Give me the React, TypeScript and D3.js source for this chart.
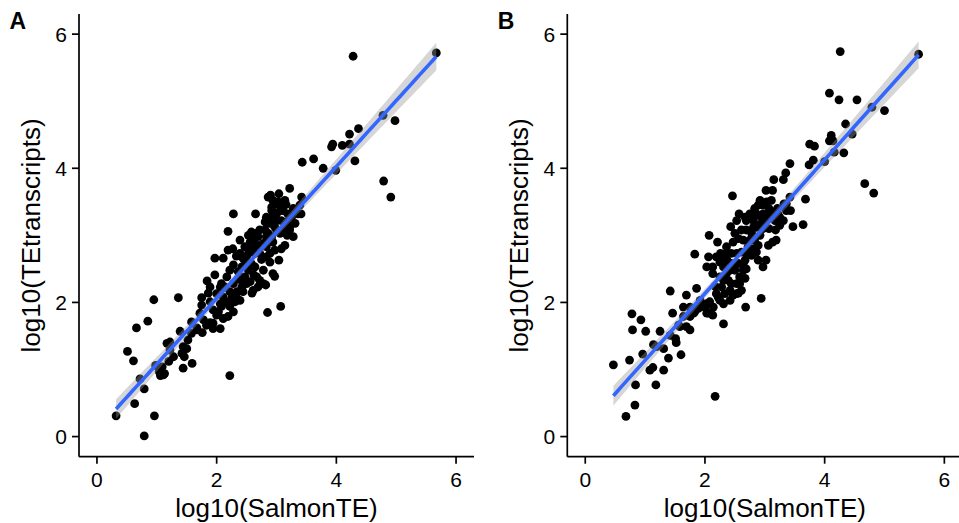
import React from 'react';
import * as d3 from 'd3';

// log10(SalmonTE), log10(TEtranscripts) pairs
const pointsA: [number, number][] = [
  [0.32, 0.31], [0.79, 0.01], [0.96, 0.31], [0.63, 0.49], [0.79, 0.71], [0.72, 0.86],
  [0.51, 1.27], [0.61, 1.13], [0.66, 1.62], [0.85, 1.72], [0.95, 2.04], [1.36, 2.07],
  [0.98, 1.06], [1.04, 0.97], [1.11, 0.92], [1.06, 0.91], [1.2, 1.12], [1.22, 1.41],
  [1.28, 1.19], [1.39, 1.57], [1.44, 1.34], [1.46, 1.19], [1.44, 1.02], [1.59, 1.09],
  [1.52, 1.44], [1.58, 1.71], [1.67, 1.59], [1.76, 1.55], [1.75, 1.96], [1.75, 2.07],
  [1.86, 2.14], [1.84, 2.32], [1.97, 2.41], [1.97, 2.66], [1.83, 1.66], [1.94, 1.69],
  [2.06, 1.61], [1.94, 1.89], [2.03, 1.86], [2.06, 2.23], [2.11, 2.08], [2.19, 1.79],
  [2.28, 1.86], [2.22, 1.94], [2.31, 2.01], [2.22, 0.91], [2.19, 3.06], [2.28, 3.32],
  [2.27, 2.8], [2.19, 2.78], [2.11, 2.66], [2.28, 2.56], [2.39, 2.93], [2.33, 2.69],
  [2.44, 2.66], [2.39, 2.34], [2.44, 2.16], [2.59, 2.14], [2.56, 2.31], [2.62, 2.41],
  [2.53, 2.48], [2.5, 2.68], [2.53, 2.8], [2.61, 2.93], [2.64, 3.03], [2.56, 2.9],
  [2.65, 3.32], [2.69, 2.98], [2.75, 2.64], [2.78, 2.48], [2.69, 2.23], [2.78, 2.28],
  [2.82, 2.26], [2.72, 2.33], [2.85, 1.85], [2.81, 3.2], [2.86, 3.57], [2.9, 3.6],
  [2.92, 3.37], [2.94, 3.52], [3.04, 3.62], [3.0, 3.47], [3.14, 3.52], [3.06, 3.37],
  [2.97, 3.13], [2.86, 3.03], [2.94, 2.9], [2.83, 2.83], [2.89, 2.6], [3.04, 2.63],
  [3.08, 2.8], [2.94, 2.43], [2.97, 2.39], [3.07, 1.94], [3.14, 2.85], [3.18, 3.0],
  [3.1, 3.08], [3.22, 3.13], [3.28, 2.98], [3.31, 3.18], [3.22, 3.7], [3.19, 3.32],
  [3.28, 3.4], [3.39, 3.45], [3.42, 3.57], [3.41, 3.32], [3.43, 4.09], [3.62, 4.14],
  [3.78, 4.0], [3.99, 3.97], [3.92, 4.32], [3.94, 4.36], [4.1, 4.34], [4.22, 4.36],
  [4.22, 4.51], [4.37, 4.59], [4.31, 4.11], [4.28, 5.67], [4.78, 4.79], [4.98, 4.71],
  [4.79, 3.81], [4.91, 3.57], [5.67, 5.72], [1.78, 1.74], [1.72, 1.84], [1.89, 2.01],
  [2.0, 2.13], [2.14, 2.23], [2.22, 2.16], [2.33, 2.13], [2.28, 2.28], [2.17, 2.38],
  [2.36, 2.46], [2.47, 2.38], [2.42, 2.53], [2.58, 2.58], [2.64, 2.73], [2.72, 2.73],
  [2.78, 2.88], [2.69, 2.85], [2.61, 2.8], [2.53, 3.0], [2.58, 3.05], [2.72, 3.08],
  [2.81, 3.08], [2.89, 3.18], [3.0, 3.22], [2.93, 3.27], [3.0, 3.32], [3.08, 3.22],
  [3.14, 3.13], [3.06, 3.03], [2.92, 2.98], [2.47, 2.83], [2.39, 2.73], [2.22, 2.48],
  [2.08, 2.28], [1.89, 2.23], [2.06, 1.98], [2.17, 2.01], [2.26, 2.08], [2.5, 2.28],
  [2.67, 2.38], [2.64, 2.53], [2.83, 2.68], [2.89, 2.73], [2.97, 2.78], [3.11, 3.37],
  [3.16, 3.46], [3.04, 3.47], [3.25, 3.27], [3.36, 3.32], [2.61, 2.18], [1.58, 1.54],
  [1.67, 1.62], [1.17, 1.39], [1.22, 1.29], [1.42, 1.24], [1.5, 1.31], [1.09, 1.04],
  [1.13, 0.94], [1.94, 1.61], [1.89, 1.7], [2.53, 2.73], [2.61, 2.98], [2.83, 2.98],
  [3.0, 3.08], [3.22, 3.08], [2.34, 2.16], [2.42, 2.23], [2.28, 2.01], [2.08, 1.94],
  [2.0, 1.81], [2.11, 1.76], [2.39, 2.03], [2.47, 2.63], [2.83, 3.27], [2.92, 3.42],
  [3.03, 3.5], [3.17, 3.2],
];

const pointsB: [number, number][] = [
  [0.47, 1.07], [0.68, 0.3], [0.83, 0.47], [0.84, 0.77], [0.74, 1.14], [0.78, 1.83],
  [0.79, 1.59], [0.93, 1.74], [1.01, 1.57], [0.96, 1.23], [1.08, 0.99], [1.13, 1.03],
  [1.18, 0.77], [1.31, 0.99], [1.14, 1.37], [1.25, 1.57], [1.31, 1.31], [1.39, 1.17],
  [1.51, 1.46], [1.52, 1.4], [1.6, 1.22], [1.46, 1.84], [1.42, 2.17], [1.69, 2.11],
  [1.64, 1.93], [1.75, 1.59], [1.69, 1.64], [1.58, 1.64], [1.75, 1.79], [1.83, 1.86],
  [1.86, 2.21], [1.83, 2.72], [2.07, 3.0], [2.21, 2.9], [2.06, 2.68], [2.13, 2.53],
  [2.13, 2.43], [2.17, 2.24], [2.03, 1.98], [2.13, 1.81], [2.31, 1.68], [2.17, 0.6],
  [2.25, 2.03], [1.97, 1.96], [1.89, 1.91], [2.06, 1.84], [2.46, 3.59], [2.43, 3.13],
  [2.53, 3.22], [2.57, 3.32], [2.47, 2.9], [2.36, 2.73], [2.31, 2.68], [2.25, 2.6],
  [2.42, 2.48], [2.39, 2.33], [2.44, 2.28], [2.47, 2.11], [2.56, 2.14], [2.68, 1.93],
  [2.67, 2.36], [2.64, 2.48], [2.69, 2.5], [2.56, 2.58], [2.61, 2.75], [2.67, 2.63],
  [2.61, 3.08], [2.69, 3.08], [2.78, 3.03], [2.81, 3.22], [2.86, 3.32], [2.89, 3.45],
  [2.97, 3.45], [3.03, 3.5], [3.11, 3.52], [3.02, 3.67], [3.13, 3.67], [3.15, 3.83],
  [3.31, 3.83], [3.35, 3.93], [3.42, 4.07], [2.86, 3.12], [2.94, 3.27], [2.97, 3.1],
  [3.07, 3.1], [3.18, 3.08], [3.13, 2.9], [3.06, 2.85], [2.86, 2.75], [2.89, 2.63],
  [3.02, 2.63], [2.97, 2.53], [2.94, 2.06], [3.22, 3.32], [3.31, 3.22], [3.36, 3.37],
  [3.43, 3.37], [3.42, 3.57], [3.32, 3.47], [3.47, 3.13], [3.64, 3.16], [3.68, 3.54],
  [3.74, 4.05], [3.81, 4.12], [3.75, 4.36], [3.83, 4.33], [4.0, 4.1], [4.08, 5.12],
  [4.24, 5.02], [4.54, 5.02], [4.11, 4.49], [4.14, 4.41], [4.16, 4.24], [4.32, 4.23],
  [4.35, 4.66], [4.46, 4.51], [4.26, 5.74], [4.79, 4.91], [5.0, 4.86], [4.67, 3.77],
  [4.82, 3.63], [5.57, 5.7], [4.08, 4.41], [1.81, 1.84], [1.92, 2.03], [2.0, 1.93],
  [2.08, 2.01], [2.19, 2.13], [2.28, 2.23], [2.31, 2.33], [2.36, 2.43], [2.25, 2.38],
  [2.19, 2.68], [2.26, 2.73], [2.37, 2.63], [2.44, 2.58], [2.5, 2.48], [2.53, 2.73],
  [2.5, 3.03], [2.56, 2.95], [2.64, 2.93], [2.72, 2.83], [2.75, 2.93], [2.81, 2.8],
  [2.83, 2.93], [2.92, 3.0], [2.92, 3.16], [3.0, 3.22], [3.06, 3.3], [3.11, 3.35],
  [3.17, 3.22], [3.25, 3.15], [3.21, 3.4], [3.07, 3.4], [2.97, 3.32], [2.81, 3.12],
  [2.69, 2.73], [2.58, 2.38], [2.53, 2.28], [2.42, 2.18], [2.33, 2.13], [2.14, 1.93],
  [2.03, 1.84], [1.75, 1.93], [1.64, 1.79], [1.56, 1.66], [1.42, 1.51], [1.19, 1.34],
  [2.61, 2.18], [2.58, 2.28], [2.64, 2.58], [2.78, 2.7], [2.89, 2.85], [2.03, 2.53],
  [2.31, 2.53], [2.44, 2.73], [2.75, 3.32], [2.83, 3.4], [2.69, 3.22], [2.67, 3.27],
  [2.92, 3.52], [3.14, 3.25], [3.25, 3.27], [3.36, 3.47], [3.19, 2.93], [2.31, 1.98],
  [2.42, 2.03], [2.53, 2.13], [2.22, 2.08], [2.36, 2.83],
];

const axisTicks = [0, 2, 4, 6];
const panelTags = ['A', 'B'];
const xTitle = 'log10(SalmonTE)';
const yTitle = 'log10(TEtranscripts)';

const FONT = '"Liberation Sans", Arial, Helvetica, sans-serif';

// lm fit with 95% confidence band, like geom_smooth(method = "lm")
function fitLine(pts: [number, number][]) {
  const n = pts.length;
  const mx = d3.mean(pts, d => d[0]) as number;
  const my = d3.mean(pts, d => d[1]) as number;
  const sxx = d3.sum(pts, d => (d[0] - mx) ** 2);
  const sxy = d3.sum(pts, d => (d[0] - mx) * (d[1] - my));
  const slope = sxy / sxx;
  const icpt = my - slope * mx;
  const rss = d3.sum(pts, d => (d[1] - icpt - slope * d[0]) ** 2);
  const s = Math.sqrt(rss / (n - 2));
  const t = 1.972;
  const [x0, x1] = d3.extent(pts, d => d[0]) as [number, number];
  return d3.range(0, 81).map(i => {
    const x = x0 + ((x1 - x0) * i) / 80;
    const fit = icpt + slope * x;
    const se = s * Math.sqrt(1 / n + (x - mx) ** 2 / sxx);
    return { x, fit, lo: fit - t * se, hi: fit + t * se };
  });
}

const Panel = ({ pts, left, tag }: { pts: [number, number][]; left: number; tag: string }) => {
  const x = d3.scaleLinear().domain([-0.3, 6.3]).range([left, left + 395]);
  const y = d3.scaleLinear().domain([-0.3, 6.3]).range([456.7, 14]);
  const fit = fitLine(pts);
  const band = d3.area<any>().x(d => x(d.x)).y0(d => y(d.lo)).y1(d => y(d.hi))(fit) as string;
  const line = d3.line<any>().x(d => x(d.x)).y(d => y(d.fit))(fit) as string;
  const x0 = x.range()[0];
  const yb = y.range()[0];
  return (
    <g fontFamily={FONT}>
      {pts.map((p, i) => (
        <circle key={i} cx={x(p[0])} cy={y(p[1])} r={4.4} fill="black" />
      ))}
      <path d={band} fill="#999999" fillOpacity={0.4} />
      <path d={line} fill="none" stroke="#3366FF" strokeWidth={3.6} />
      <line x1={x0} x2={x.range()[1]} y1={yb} y2={yb} stroke="black" strokeWidth={1.7} />
      <line x1={x0} x2={x0} y1={yb} y2={y.range()[1]} stroke="black" strokeWidth={1.7} />
      {axisTicks.map(t => (
        <g key={'x' + t}>
          <line x1={x(t)} x2={x(t)} y1={yb} y2={yb + 7} stroke="black" strokeWidth={1.7} />
          <text x={x(t)} y={486.5} textAnchor="middle" fontSize={21} fill="black">{t}</text>
        </g>
      ))}
      {axisTicks.map(t => (
        <g key={'y' + t}>
          <line x1={x0 - 7} x2={x0} y1={y(t)} y2={y(t)} stroke="black" strokeWidth={1.7} />
          <text x={x0 - 12} y={y(t) + 7.5} textAnchor="end" fontSize={21} fill="black">{t}</text>
        </g>
      ))}
      <text x={left + 197.5} y={517} textAnchor="middle" fontSize={26} fill="black">{xTitle}</text>
      <text
        transform={`translate(${left - 39},${(yb + y.range()[1]) / 2}) rotate(-90)`}
        textAnchor="middle"
        fontSize={26}
        fill="black"
      >
        {yTitle}
      </text>
      <text x={left - 69.5} y={29} fontSize={23} fontWeight="bold" fill="black">{tag}</text>
    </g>
  );
};

export default function App() {
  return (
    <svg width={959} height={523} style={{ position: 'absolute', left: 0, top: 0, background: 'white' }}>
      <rect width={959} height={523} fill="white" />
      <Panel pts={pointsA} left={79} tag={panelTags[0]} />
      <Panel pts={pointsB} left={567.3} tag={panelTags[1]} />
    </svg>
  );
}
